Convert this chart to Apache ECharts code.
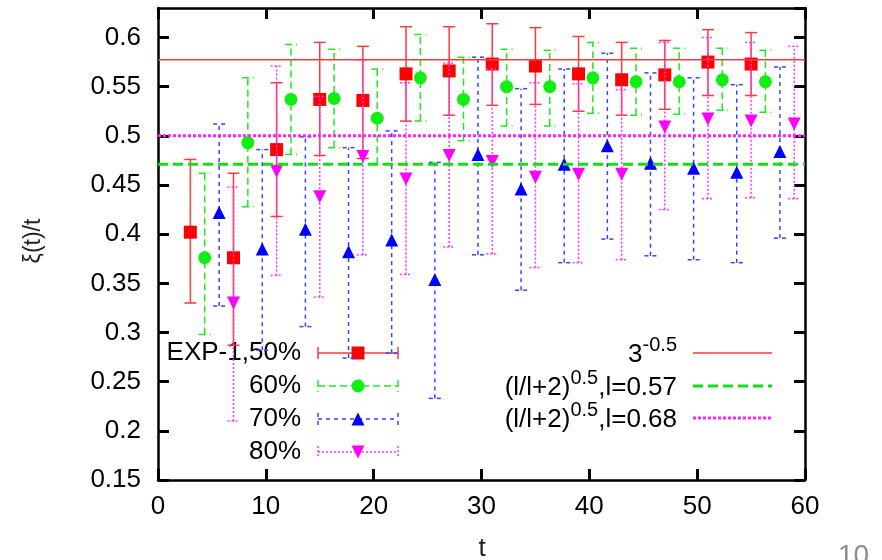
<!DOCTYPE html>
<html>
<head>
<meta charset="utf-8">
<script src="https://cdn.jsdelivr.net/npm/echarts@6/dist/echarts.min.js"></script>
<style>
  html, body { margin: 0; padding: 0; background: #fff; }
  #chart { width: 882px; height: 560px; }
</style>
</head>
<body>
<div id="chart"></div>
<script>
// ---- measured data: xi(t)/t with error bars, four truncation levels ----
const tExp50 = [3, 7, 11, 15, 19, 23, 27, 31, 35, 39, 43, 47, 51, 55];
const valExp50 = [0.402, 0.376, 0.486, 0.537, 0.536, 0.563, 0.566, 0.573, 0.571, 0.563, 0.557, 0.562, 0.575, 0.573];
const lowExp50 = [0.330, 0.287, 0.418, 0.480, 0.477, 0.515, 0.521, 0.531, 0.532, 0.525, 0.521, 0.527, 0.541, 0.541];
const highExp50 = [0.476, 0.462, 0.554, 0.595, 0.591, 0.611, 0.611, 0.614, 0.610, 0.601, 0.595, 0.597, 0.608, 0.605];

const tExp60 = [4.33, 8.33, 12.33, 16.33, 20.33, 24.33, 28.33, 32.33, 36.33, 40.33, 44.33, 48.33, 52.33, 56.33];
const valExp60 = [0.376, 0.493, 0.537, 0.538, 0.518, 0.559, 0.537, 0.550, 0.550, 0.559, 0.555, 0.555, 0.557, 0.555];
const lowExp60 = [0.298, 0.428, 0.481, 0.488, 0.471, 0.515, 0.495, 0.510, 0.510, 0.523, 0.521, 0.522, 0.526, 0.524];
const highExp60 = [0.462, 0.559, 0.593, 0.588, 0.568, 0.603, 0.580, 0.588, 0.587, 0.595, 0.589, 0.589, 0.589, 0.587];

const tExp70 = [5.67, 9.67, 13.67, 17.67, 21.67, 25.67, 29.67, 33.67, 37.67, 41.67, 45.67, 49.67, 53.67, 57.67];
const valExp70 = [0.422, 0.385, 0.405, 0.382, 0.394, 0.354, 0.481, 0.446, 0.471, 0.490, 0.472, 0.467, 0.463, 0.484];
const lowExp70 = [0.327, 0.282, 0.306, 0.274, 0.279, 0.233, 0.379, 0.343, 0.371, 0.395, 0.378, 0.374, 0.371, 0.396];
const highExp70 = [0.512, 0.486, 0.499, 0.488, 0.505, 0.473, 0.580, 0.548, 0.568, 0.584, 0.564, 0.559, 0.552, 0.570];

const tExp80 = [7, 11, 15, 19, 23, 27, 31, 35, 39, 43, 47, 51, 55, 59];
const valExp80 = [0.330, 0.464, 0.438, 0.479, 0.456, 0.480, 0.474, 0.458, 0.461, 0.461, 0.509, 0.517, 0.515, 0.512];
const lowExp80 = [0.210, 0.358, 0.336, 0.379, 0.359, 0.387, 0.380, 0.366, 0.371, 0.374, 0.425, 0.436, 0.437, 0.436];
const highExp80 = [0.448, 0.571, 0.540, 0.577, 0.554, 0.574, 0.568, 0.554, 0.553, 0.547, 0.595, 0.600, 0.595, 0.591];

// horizontal reference levels
const refLevels = [0.5774, 0.471, 0.500];
const refRange = [0, 60];

// axis ranges
const xRange = [0, 60, 10];
const yRange = [0.15, 0.63, 0.05];

// texts
const seriesLabels = ['EXP-1,50%', '60%', '70%', '80%'];
const refLabels = ['{b|3}{s|-0.5}', '{b|(l/l+2)}{s|0.5}{b|,l=0.57}', '{b|(l/l+2)}{s|0.5}{b|,l=0.68}'];
const xTitle = 't';
const yTitle = 'ξ(t)/t';
const pageNumber = '10';

// ---- styling ----
const FONT = '"Liberation Sans", Arial, sans-serif';
const sets = [
  { t: tExp50, v: valExp50, lo: lowExp50, hi: highExp50, bar: '#ff3a3a', mark: '#ff0000', dash: null, symbol: 'rect', size: 13, rot: 0 },
  { t: tExp60, v: valExp60, lo: lowExp60, hi: highExp60, bar: '#22e622', mark: '#11ee11', dash: [7, 4], symbol: 'circle', size: 13, rot: 0 },
  { t: tExp70, v: valExp70, lo: lowExp70, hi: highExp70, bar: '#3344ff', mark: '#0000ff', dash: [4, 4], symbol: 'triangle', size: 13, rot: 0 },
  { t: tExp80, v: valExp80, lo: lowExp80, hi: highExp80, bar: '#ff33ff', mark: '#ff00ff', dash: [2, 2], symbol: 'triangle', size: 13, rot: 180 }
];
const refStyles = [
  { color: '#ff3a3a', width: 1.5, type: 'solid' },
  { color: '#11e011', width: 3, type: [10, 5] },
  { color: '#ff22ff', width: 3, type: [3, 2] }
];

function errorBars(s, z) {
  return {
    type: 'custom',
    z: z,
    clip: true,
    data: s.t.map((t, i) => [t, s.lo[i], s.hi[i]]),
    encode: { x: 0, y: [1, 2] },
    renderItem: function (params, api) {
      const x = api.value(0);
      const a = api.coord([x, api.value(1)]);
      const b = api.coord([x, api.value(2)]);
      const cap = 6;
      const style = { stroke: s.bar, lineWidth: 1.5, lineDash: s.dash || null, fill: null };
      return {
        type: 'group',
        children: [
          { type: 'line', shape: { x1: a[0], y1: a[1], x2: b[0], y2: b[1] }, style: style },
          { type: 'line', shape: { x1: a[0] - cap, y1: a[1], x2: a[0] + cap, y2: a[1] }, style: style },
          { type: 'line', shape: { x1: b[0] - cap, y1: b[1], x2: b[0] + cap, y2: b[1] }, style: style }
        ]
      };
    }
  };
}

function markers(s, z) {
  return {
    type: 'scatter',
    z: z,
    symbol: s.symbol,
    symbolSize: s.size,
    symbolRotate: s.rot,
    itemStyle: { color: s.mark, opacity: 1 },
    emphasis: { disabled: true },
    data: s.t.map((t, i) => [t, s.v[i]])
  };
}

const series = [];
sets.forEach((s, i) => {
  series.push(errorBars(s, 2 + i * 2));
  series.push(markers(s, 3 + i * 2));
});
refLevels.forEach((lv, i) => {
  series.push({
    type: 'line',
    z: 12,
    showSymbol: false,
    silent: true,
    lineStyle: refStyles[i],
    data: [[refRange[0], lv], [refRange[1], lv]]
  });
});

// ---- key (series samples, left block; reference samples, right block) ----
const graphics = [];
const keyRowsL = [353, 386, 419, 452];
const keyTextXL = 301, keyX1 = 318, keyX2 = 398;
sets.forEach((s, i) => {
  const y = keyRowsL[i];
  const st = { stroke: s.bar, lineWidth: 1.5, lineDash: s.dash || null };
  graphics.push({ type: 'text', style: { text: seriesLabels[i], x: keyTextXL, y: y, align: 'right', verticalAlign: 'middle', font: '26px ' + FONT, fill: '#000' } });
  graphics.push({ type: 'line', shape: { x1: keyX1, y1: y, x2: keyX2, y2: y }, style: st });
  graphics.push({ type: 'line', shape: { x1: keyX1, y1: y - 6, x2: keyX1, y2: y + 6 }, style: st });
  graphics.push({ type: 'line', shape: { x1: keyX2, y1: y - 6, x2: keyX2, y2: y + 6 }, style: st });
  const cx = (keyX1 + keyX2) / 2, h = s.size / 2;
  let shape;
  if (s.symbol === 'rect') shape = { type: 'rect', shape: { x: cx - h, y: y - h, width: s.size, height: s.size } };
  else if (s.symbol === 'circle') shape = { type: 'circle', shape: { cx: cx, cy: y, r: h } };
  else if (s.rot === 0) shape = { type: 'polygon', shape: { points: [[cx, y - h], [cx + h, y + h], [cx - h, y + h]] } };
  else shape = { type: 'polygon', shape: { points: [[cx - h, y - h], [cx + h, y - h], [cx, y + h]] } };
  shape.style = { fill: s.mark };
  graphics.push(shape);
});

const keyRowsR = [353, 386, 418];
const keyTextXR = 677, keyR1 = 693, keyR2 = 772;
refLabels.forEach((lab, i) => {
  const y = keyRowsR[i];
  graphics.push({
    type: 'text',
    style: {
      text: lab, x: keyTextXR, y: y + 2, align: 'right', verticalAlign: 'middle',
      rich: {
        b: { fontSize: 26, fontFamily: FONT, lineHeight: 40, fill: '#000' },
        s: { fontSize: 20, fontFamily: FONT, lineHeight: 16, verticalAlign: 'top', fill: '#000' }
      }
    }
  });
  const rs = refStyles[i];
  graphics.push({
    type: 'line',
    shape: { x1: keyR1, y1: y, x2: keyR2, y2: y },
    style: { stroke: rs.color, lineWidth: rs.width, lineDash: Array.isArray(rs.type) ? rs.type : null }
  });
});

// axis titles and page number
graphics.push({ type: 'text', rotation: Math.PI / 2, x: 34, y: 241, style: { text: yTitle, x: 0, y: 0, align: 'center', verticalAlign: 'middle', font: '23px ' + FONT, fill: '#222' } });
graphics.push({ type: 'text', style: { text: xTitle, x: 482, y: 549, align: 'center', verticalAlign: 'middle', font: '26px ' + FONT, fill: '#222' } });
graphics.push({ type: 'text', style: { text: pageNumber, x: 838, y: 556, align: 'left', verticalAlign: 'middle', font: '28px ' + FONT, fill: '#8c8c8c' } });

// ---- axes ----
const axisLine = { show: true, onZero: false, lineStyle: { color: '#000', width: 2.5 } };
const axisTick = { show: true, inside: true, length: 11, lineStyle: { color: '#000', width: 3 } };
const labelStyle = { fontFamily: FONT, fontSize: 26, color: '#000' };

function xAx(pos, labels) {
  return {
    type: 'value', position: pos, min: xRange[0], max: xRange[1], interval: xRange[2],
    axisLine: axisLine, axisTick: axisTick, splitLine: { show: false },
    axisLabel: Object.assign({ show: labels, margin: 14 }, labelStyle)
  };
}
function yAx(pos, labels) {
  return {
    type: 'value', position: pos, min: yRange[0], max: yRange[1], interval: yRange[2],
    axisLine: axisLine, axisTick: axisTick, splitLine: { show: false },
    axisLabel: Object.assign({ show: labels, margin: 17, showMaxLabel: false,
      formatter: v => String(Math.round(v * 100) / 100) }, labelStyle)
  };
}

const chart = echarts.init(document.getElementById('chart'));
chart.setOption({
  animation: false,
  backgroundColor: '#fff',
  grid: { left: 158, right: 77, top: 8, bottom: 80, containLabel: false },
  xAxis: [xAx('bottom', true), xAx('top', false)],
  yAxis: [yAx('left', true), yAx('right', false)],
  series: series,
  graphic: { elements: graphics }
});
</script>
</body>
</html>
